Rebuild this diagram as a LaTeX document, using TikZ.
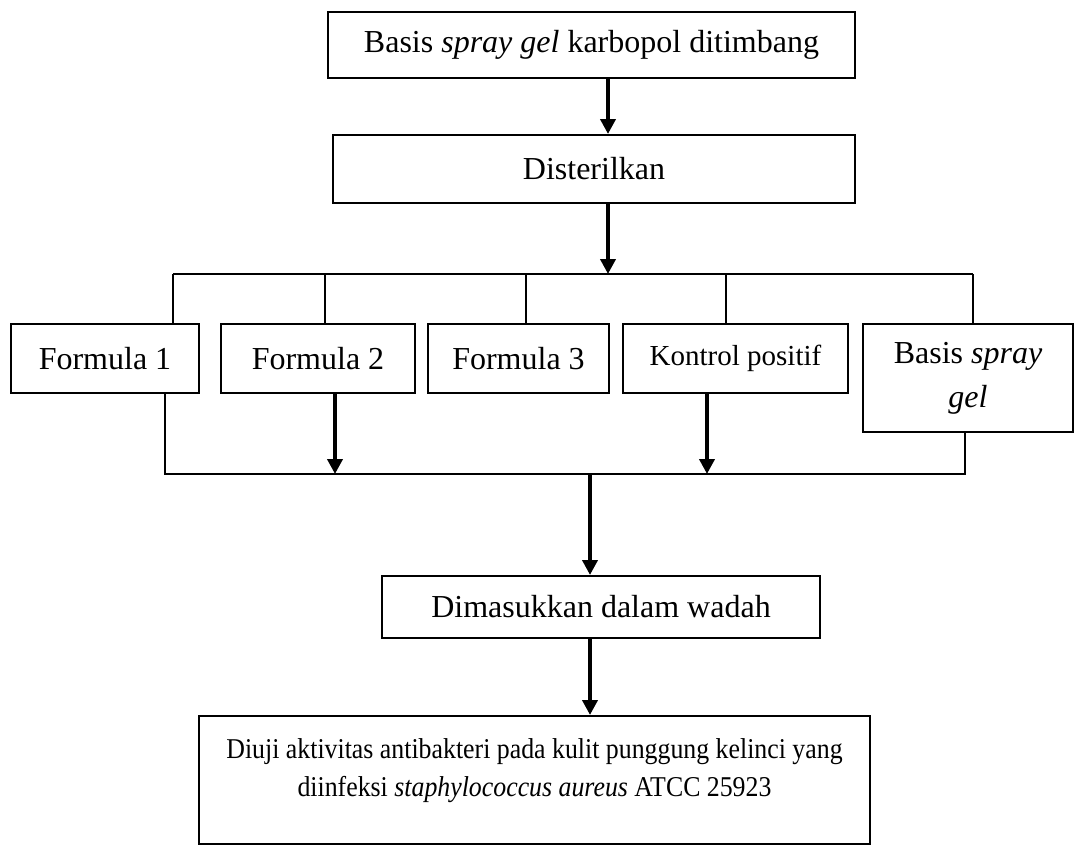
\documentclass[tikz,border=0pt]{standalone}
\usepackage{fontspec}
\setmainfont{Liberation Serif}
\usetikzlibrary{arrows.meta,calc}
\begin{document}
\begin{tikzpicture}[x=1pt,y=-1pt,
  box/.style={draw,line width=2pt,rectangle,inner sep=0pt,align=center,font=\fontsize{32}{44}\selectfont},
  thin/.style={line width=2pt},
  arr/.style={line width=4.5pt,-{Triangle[width=15pt,length=15pt]}}]
\useasboundingbox (0,0) rectangle (1074,846);
% boxes
\node[box,minimum width=527pt,minimum height=66pt] (top) at (591.5,45) {Basis \textit{spray gel} karbopol ditimbang};
\node[box,minimum width=522pt,minimum height=68pt] (ster) at (594,169) {Disterilkan};
\node[box,minimum width=188pt,minimum height=69pt] (f1) at (105,358.5) {Formula 1};
\node[box,minimum width=194pt,minimum height=69pt] (f2) at (318,358.5) {Formula 2};
\node[box,minimum width=181pt,minimum height=69pt] (f3) at (518.5,358.5) {Formula 3};
\node[box,minimum width=225pt,minimum height=69pt,font=\fontsize{29}{38}\selectfont] (kp) at (735.5,358.5) {Kontrol positif};
\node[box,minimum width=210pt,minimum height=108pt] (bg) at (968,378) {Basis \textit{spray}\\ \textit{gel}};
\node[box,minimum width=438pt,minimum height=62pt] (dm) at (601,607) {Dimasukkan dalam wadah};
\node[box,minimum width=671pt,minimum height=128pt,font=\fontsize{28.7}{38}\selectfont,text depth=24pt] (uji) at (534.5,780)
  {\scalebox{0.9}[1]{Diuji aktivitas antibakteri pada kulit punggung kelinci yang}\\
   \scalebox{0.9}[1]{diinfeksi \textit{staphylococcus aureus} ATCC 25923}};
% upper bus
\coordinate (ua) at (608,274);
\coordinate (u1) at (173,274);
\coordinate (u2) at (325,274);
\coordinate (u3) at (526,274);
\coordinate (u4) at (726,274);
\coordinate (u5) at (973,274);
\draw[arr] (top.south -| ua) -- (ster.north -| ua);
\draw[arr] (ster.south -| ua) -- (ua);
\draw[thin] (u1) -- (u5);
\draw[thin] (u1) -- (u1 |- f1.north);
\draw[thin] (u2) -- (u2 |- f2.north);
\draw[thin] (u3) -- (u3 |- f3.north);
\draw[thin] (u4) -- (u4 |- kp.north);
\draw[thin] (u5) -- (u5 |- bg.north);
% lower bus
\coordinate (l1) at (165,474);
\coordinate (l2) at (335,474);
\coordinate (lm) at (590,474);
\coordinate (l4) at (707,474);
\coordinate (l5) at (965,474);
\draw[thin] (l1 |- f1.south) -- (l1) -- (l5) -- (l5 |- bg.south);
\draw[arr] (l2 |- f2.south) -- (l2);
\draw[arr] (l4 |- kp.south) -- (l4);
\draw[arr] (lm) -- (dm.north -| lm);
\draw[arr] (dm.south -| lm) -- (uji.north -| lm);
\end{tikzpicture}
\end{document}
